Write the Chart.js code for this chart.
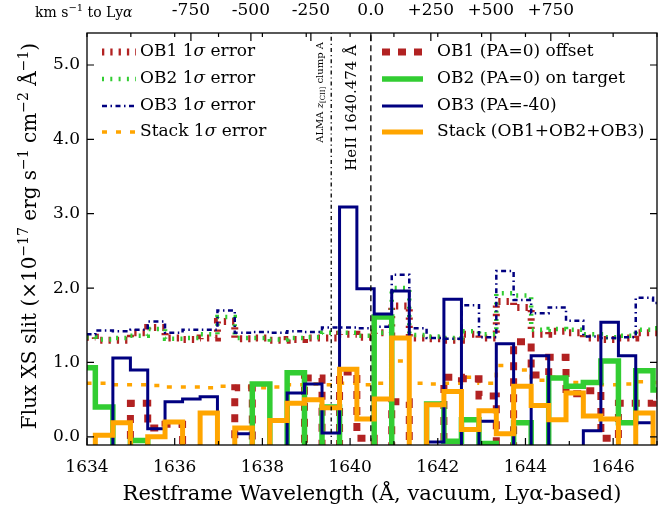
<!DOCTYPE html>
<html>
<head>
<meta charset="utf-8">
<script src="https://cdn.jsdelivr.net/npm/chart.js@4.4.0/dist/chart.umd.min.js"></script>
<style>
  html, body { margin: 0; padding: 0; background: #fff; }
</style>
</head>
<body>
<canvas id="spec" width="670" height="507"></canvas>
<script>
// Restframe wavelength of each spectral bin centre (Å)
const wavelength = [
  1633.99, 1634.39, 1634.79, 1635.19, 1635.58, 1635.98, 1636.38, 1636.78,
  1637.17, 1637.57, 1637.97, 1638.37, 1638.76, 1639.16, 1639.56, 1639.96,
  1640.35, 1640.75, 1641.15, 1641.55, 1641.94, 1642.34, 1642.74, 1643.14,
  1643.53, 1643.93, 1644.33, 1644.73, 1645.12, 1645.52, 1645.92, 1646.32,
  1646.71, 1647.11
];

// XS-slit fluxes, 1e-17 erg/s/cm2/Å
const ob1Flux = [
  -0.3, -0.3, -0.3, 0.45, 0.12, 0.17, -0.3, -0.3,
  -0.3, 0.66, -0.3, -0.3, -0.3, 0.79, -0.3, 0.87,
  -0.02, -0.3, 0.47, -0.3, -0.3, 0.80, 0.78, 0.55,
  -0.3, 1.28, 0.83, 1.07, 0.58, 0.62, -0.02, 0.45,
  0.45, 0.55
];
const ob2Flux = [
  0.93, 0.40, -0.3, -0.05, -0.3, -0.3, -0.3, -0.3,
  -0.3, -0.3, 0.71, -0.3, 0.86, -0.3, 0.40, -0.3,
  -0.3, 1.61, -0.3, -0.3, 0.44, -0.06, 0.23, -0.09,
  -0.3, 0.19, -0.3, 0.79, 0.68, 0.73, 1.02, 0.19,
  0.89, 0.63
];
const ob3Flux = [
  -0.3, -0.3, 1.06, 0.90, 0.11, 0.47, 0.51, 0.54,
  -0.2, 0.04, -0.3, -0.3, 0.59, 0.71, 0.05, 3.09,
  1.99, 1.65, 1.96, -0.2, -0.07, 1.85, -0.2, 0.21,
  1.25, -0.2, 1.09, -0.2, -0.2, 0.08, 1.54, 1.09,
  0.19, -0.2
];
const stackFlux = [
  -0.3, 0.02, 0.19, -0.3, 0.00, 0.20, -0.3, 0.32,
  -0.3, 0.12, -0.3, 0.22, 0.45, 0.50, 0.39, 0.91,
  0.24, 0.51, 1.33, -0.3, 0.43, 0.61, 0.10, 0.35,
  0.04, 0.68, 0.42, 0.23, 0.59, 0.28, 0.24, -0.3,
  0.32, -0.3
];

// 1-sigma noise spectra
const ob1Err = [
  1.34, 1.30, 1.30, 1.40, 1.47, 1.33, 1.31, 1.33,
  1.55, 1.32, 1.33, 1.30, 1.31, 1.33, 1.33, 1.38,
  1.34, 1.40, 1.76, 1.33, 1.32, 1.30, 1.38, 1.33,
  1.82, 1.74, 1.38, 1.42, 1.40, 1.33, 1.31, 1.33,
  1.40, 1.40
];
const ob2Err = [
  1.34, 1.31, 1.33, 1.36, 1.45, 1.32, 1.33, 1.38,
  1.61, 1.33, 1.33, 1.31, 1.33, 1.34, 1.40, 1.40,
  1.36, 1.40, 2.00, 1.37, 1.35, 1.33, 1.42, 1.38,
  1.93, 1.90, 1.44, 1.45, 1.44, 1.38, 1.34, 1.36,
  1.44, 1.46
];
const ob3Err = [
  1.38, 1.43, 1.42, 1.44, 1.55, 1.40, 1.44, 1.44,
  1.70, 1.40, 1.41, 1.40, 1.42, 1.41, 1.47, 1.47,
  1.46, 1.48, 2.18, 1.46, 1.33, 1.32, 1.77, 1.34,
  2.23, 1.84, 1.66, 1.74, 1.56, 1.35, 1.33, 1.34,
  1.87, 1.80
];
const stackErr = [
  0.72, 0.72, 0.70, 0.70, 0.69, 0.67, 0.67, 0.66,
  0.68, 0.67, 0.66, 0.67, 0.70, 0.71, 0.70, 0.72,
  0.70, 0.72, 1.02, 0.72, 0.71, 0.72, 0.80, 0.72,
  0.96, 0.90, 0.76, 0.80, 0.73, 0.72, 0.70, 0.71,
  0.74, 0.73
];

// reference wavelengths
const HEII = 1640.474;
const ALMA_CLUMP_A = 1639.57;
const C_KMS = 299792.458;

// velocity axis (relative to the HeII rest wavelength)
const velocityKms = [-750, -500, -250, 0, 250, 500, 750];
const velocityLabels = ["-750", "-500", "-250", "0.0", "+250", "+500", "+750"];

const SERIF = "'DejaVu Serif', serif";
Chart.defaults.font.family = SERIF;
Chart.defaults.color = "#000";

const pts = (ys) => wavelength.map((x, i) => ({ x, y: ys[i] }));

function stepSet(label, ys, color, width, dash, order) {
  return {
    label,
    data: pts(ys),
    stepped: "middle",
    borderColor: color,
    borderWidth: width,
    borderDash: dash,
    borderCapStyle: "butt",
    pointRadius: 0,
    fill: false,
    clip: 0,
    order,
  };
}

function vline(x, dash, order) {
  return {
    label: "",
    data: [{ x, y: -1 }, { x, y: 6 }],
    borderColor: "#000",
    borderWidth: 1.3,
    borderDash: dash,
    pointRadius: 0,
    clip: 0,
    order,
  };
}

const datasets = [
  stepSet("OB1 1σ error", ob1Err, "#B22222", 7, [2.3, 6], 12),
  stepSet("OB2 1σ error", ob2Err, "#32CD32", 4.5, [2, 6.3], 11),
  stepSet("OB3 1σ error", ob3Err, "#000080", 2.5, [5, 3.5, 1.5, 3.5], 10),
  stepSet("Stack 1σ error", stackErr, "#FFA500", 3.5, [5, 9], 9),
  stepSet("OB1 (PA=0) offset", ob1Flux, "#B22222", 7, [8, 8], 6),
  stepSet("OB2 (PA=0) on target", ob2Flux, "#32CD32", 5.5, [], 5),
  stepSet("OB3 (PA=-40)", ob3Flux, "#000080", 3, [], 4),
  stepSet("Stack (OB1+OB2+OB3)", stackFlux, "#FFA500", 5, [], 3),
  vline(ALMA_CLUMP_A, [4, 3, 1.2, 3], 2),
  vline(HEII, [6, 4], 1),
];

// write a sequence of text runs with their own fonts/offsets
function drawRuns(ctx, runs, x, y) {
  for (const r of runs) {
    ctx.font = r.font;
    ctx.fillText(r.t, x, y + (r.dy || 0));
    x += ctx.measureText(r.t).width;
  }
}

function runsWidth(ctx, runs) {
  let w = 0;
  for (const r of runs) { ctx.font = r.font; w += ctx.measureText(r.t).width; }
  return w;
}

const frameAndDecor = {
  id: "frameAndDecor",
  afterDraw(chart) {
    const { ctx, chartArea: a, scales } = chart;
    const xs = scales.x, ys = scales.y;
    ctx.save();

    // axes frame
    ctx.strokeStyle = "#000";
    ctx.lineWidth = 1.3;
    ctx.setLineDash([]);
    ctx.strokeRect(a.left, a.top, a.right - a.left, a.bottom - a.top);

    // inward tick marks
    ctx.lineWidth = 1.2;
    ctx.beginPath();
    for (let w = 1634; w <= 1647; w += 1) {
      const px = xs.getPixelForValue(w);
      const len = w % 2 === 0 ? 7 : 4;
      ctx.moveTo(px, a.bottom); ctx.lineTo(px, a.bottom - len);
      ctx.moveTo(px, a.top); ctx.lineTo(px, a.top + 4);
    }
    for (const t of scales.xTop.ticks) {
      const px = xs.getPixelForValue(t.value);
      ctx.moveTo(px, a.top); ctx.lineTo(px, a.top + 8);
    }
    for (const t of ys.ticks) {
      const py = ys.getPixelForValue(t.value);
      ctx.moveTo(a.left, py); ctx.lineTo(a.left + 7, py);
      ctx.moveTo(a.right, py); ctx.lineTo(a.right - 7, py);
    }
    ctx.stroke();

    ctx.fillStyle = "#000";
    ctx.textBaseline = "middle";
    ctx.textAlign = "left";

    // y-axis title with proper superscripts
    const T = `20px ${SERIF}`, S = `14px ${SERIF}`;
    const yTitle = [
      { t: "Flux XS slit (×10", font: T },
      { t: "−17", font: S, dy: -7 },
      { t: " erg s", font: T },
      { t: "−1", font: S, dy: -7 },
      { t: " cm", font: T },
      { t: "−2", font: S, dy: -7 },
      { t: " Å", font: T },
      { t: "−1", font: S, dy: -7 },
      { t: ")", font: T },
    ];
    ctx.save();
    ctx.translate(31, (a.top + a.bottom) / 2 - 3 + runsWidth(ctx, yTitle) / 2);
    ctx.rotate(-Math.PI / 2);
    drawRuns(ctx, yTitle, 0, 0);
    ctx.restore();

    // velocity axis caption
    drawRuns(ctx, [
      { t: "km s", font: `14px ${SERIF}` },
      { t: "−1", font: `10px ${SERIF}`, dy: -5 },
      { t: " to Ly", font: `14px ${SERIF}` },
      { t: "α", font: `italic 14px ${SERIF}` },
    ], 35, 13);

    // rotated labels beside the reference lines
    const almaRuns = [
      { t: "ALMA ", font: `10px ${SERIF}` },
      { t: "z", font: `italic 10px ${SERIF}` },
      { t: "[CII]", font: `7px ${SERIF}`, dy: 3 },
      { t: " clump A", font: `10px ${SERIF}` },
    ];
    ctx.save();
    ctx.translate(xs.getPixelForValue(ALMA_CLUMP_A) - 11, a.top + 9 + runsWidth(ctx, almaRuns));
    ctx.rotate(-Math.PI / 2);
    drawRuns(ctx, almaRuns, 0, 0);
    ctx.restore();

    const heRuns = [
      { t: "HeII 1640.474 Å", font: `15px ${SERIF}` },
    ];
    ctx.save();
    ctx.translate(xs.getPixelForValue(HEII) - 19, a.top + 12 + runsWidth(ctx, heRuns));
    ctx.rotate(-Math.PI / 2);
    drawRuns(ctx, heRuns, 0, 0);
    ctx.restore();

    // legends: noise spectra on the left, fluxes on the right
    const ds = chart.data.datasets;
    const rowY = [52, 79, 106, 132];
    const sample = (d, x0, x1, y) => {
      ctx.save();
      ctx.strokeStyle = d.borderColor;
      ctx.lineWidth = d.borderWidth;
      ctx.setLineDash(d.borderDash || []);
      ctx.lineCap = "butt";
      ctx.beginPath();
      ctx.moveTo(x0, y); ctx.lineTo(x1, y);
      ctx.stroke();
      ctx.restore();
    };
    const F = `17px ${SERIF}`;
    for (let i = 0; i < 4; i++) {
      const d = ds[i];
      sample(d, 102, 136, rowY[i]);
      const [head, tail] = d.label.split("σ");
      drawRuns(ctx, [
        { t: head, font: F },
        { t: "σ", font: `italic ${F}` },
        { t: tail, font: F },
      ], 140, rowY[i]);
    }
    for (let i = 0; i < 4; i++) {
      const d = ds[4 + i];
      sample(d, 382, 423, rowY[i]);
      drawRuns(ctx, [{ t: d.label, font: F }], 437, rowY[i]);
    }
    ctx.restore();
  },
};

new Chart(document.getElementById("spec"), {
  type: "line",
  data: { datasets },
  plugins: [frameAndDecor],
  options: {
    responsive: false,
    devicePixelRatio: 1,
    animation: false,
    events: [],
    layout: { padding: { left: 0, right: 13, top: 0, bottom: 0 } },
    plugins: { legend: { display: false }, tooltip: { enabled: false } },
    scales: {
      x: {
        type: "linear",
        position: "bottom",
        min: 1634,
        max: 1647,
        afterFit: (s) => { s.height = 62; },
        grid: { display: false, drawTicks: false },
        border: { display: false },
        ticks: {
          stepSize: 2,
          includeBounds: false,
          autoSkip: false,
          maxRotation: 0,
          padding: 12,
          font: { size: 17 },
          callback: (v) => String(v),
        },
        title: {
          display: true,
          text: "Restframe Wavelength (Å, vacuum, Lyα-based)",
          font: { size: 21 },
          padding: { top: 1, bottom: 0 },
        },
      },
      xTop: {
        type: "linear",
        position: "top",
        min: 1634,
        max: 1647,
        afterFit: (s) => { s.height = 33; },
        afterBuildTicks: (s) => {
          s.ticks = velocityKms.map((v) => ({ value: HEII * (1 + v / C_KMS) }));
        },
        grid: { display: false, drawTicks: false },
        border: { display: false },
        ticks: {
          autoSkip: false,
          maxRotation: 0,
          padding: 12,
          font: { size: 17 },
          callback: (v, i) => velocityLabels[i],
        },
      },
      y: {
        type: "linear",
        min: -0.11,
        max: 5.43,
        afterFit: (s) => { s.width = 87; },
        grid: { display: false, drawTicks: false },
        border: { display: false },
        ticks: {
          stepSize: 1,
          includeBounds: false,
          padding: 7,
          font: { size: 17 },
          callback: (v) => v.toFixed(1),
        },
      },
    },
  },
});
</script>
</body>
</html>
